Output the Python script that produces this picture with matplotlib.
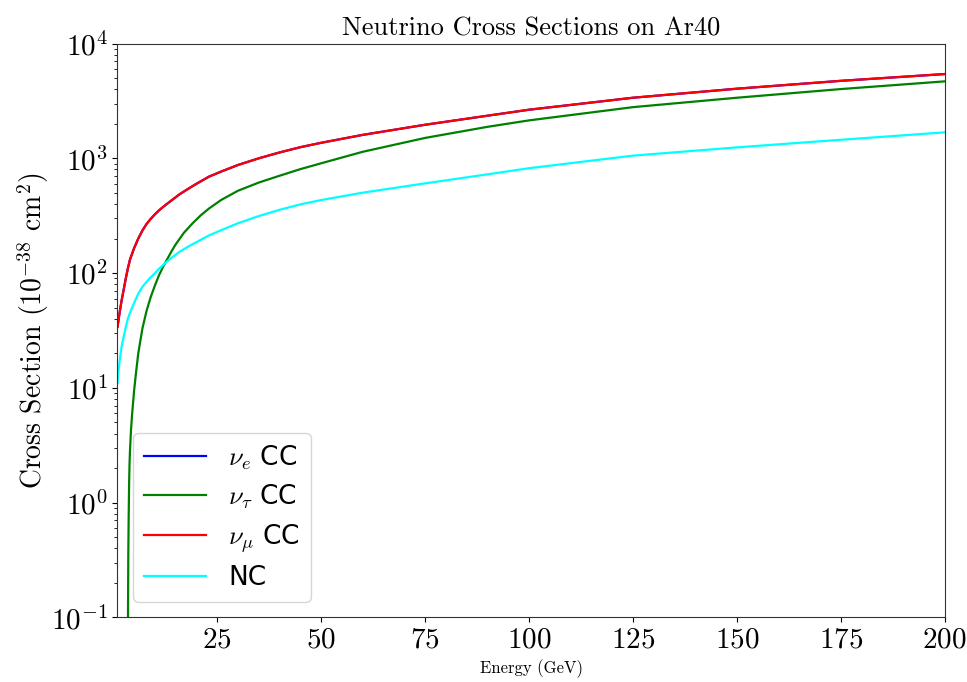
import matplotlib
matplotlib.use('Agg')
import matplotlib.pyplot as plt

plt.rcParams['font.family'] = 'cmr10'
plt.rcParams['mathtext.fontset'] = 'cm'
plt.rcParams['axes.formatter.use_mathtext'] = True

# energies (GeV) and cross sections (1e-38 cm^2) on Ar40
energy = [1, 1.25, 1.5, 2, 2.5, 3, 3.5, 4, 5, 6, 7, 8, 9, 10, 11, 12, 14, 16,
          18, 20, 23, 26, 30, 35, 40, 45, 50, 60, 75, 90, 100, 125, 150, 175,
          200]
xs_nue = [34, 39, 45, 58, 72, 90, 110, 131, 165, 200, 235, 268, 297, 325,
          352, 378, 430, 488, 542, 600, 692, 768, 875, 1000, 1125, 1250, 1365,
          1600, 1960, 2350, 2650, 3370, 4040, 4730, 5420]
xs_numu = [34, 39, 45, 58, 72, 90, 110, 131, 165, 200, 235, 268, 297, 325,
           352, 378, 430, 488, 542, 600, 692, 768, 875, 1000, 1125, 1250, 1365,
           1600, 1960, 2350, 2650, 3370, 4040, 4730, 5420]
xs_nc = [11, 14, 17, 23, 28, 34, 40, 45, 55, 66, 76, 84, 92, 100, 109, 118,
         136, 154, 170, 186, 213, 237, 272, 314, 356, 397, 433, 502, 605, 725,
         820, 1055, 1245, 1450, 1683]

energy_tau = [3.5, 3.55, 3.6, 3.7, 3.8, 3.9, 4, 4.25, 4.5, 5, 5.5, 6, 7, 8, 9,
              10, 11, 12, 13, 14, 15, 17, 19, 21, 23, 26, 30, 35, 40, 45, 50,
              60, 75, 90, 100, 125, 150, 175, 200]
xs_nutau = [0.05, 0.15, 0.35, 0.8, 1.5, 2.2, 2.8, 4.3, 5.8, 9.5, 14, 20, 33,
            47, 62, 78, 96, 114, 133, 155, 178, 225, 270, 318, 365, 435, 522,
            615, 705, 805, 905, 1140, 1505, 1880, 2140, 2790, 3370, 4010, 4680]

fig = plt.figure(figsize=(9.67, 6.82), dpi=100)
ax = fig.add_axes([0.1215, 0.0946, 0.8555, 0.8416])

ax.plot(energy, xs_nue, color='blue', lw=1.6, label=r'$\nu_e$ CC')
ax.plot(energy_tau, xs_nutau, color='green', lw=1.6, label=r'$\nu_\tau$ CC')
ax.plot(energy, xs_numu, color='red', lw=1.6, label=r'$\nu_\mu$ CC')
ax.plot(energy, xs_nc, color='cyan', lw=1.6, label='NC')

ax.set_yscale('log')
ax.set_xlim(1, 200)
ax.set_ylim(0.1, 1e4)
ax.set_xticks([25, 50, 75, 100, 125, 150, 175, 200])
ax.tick_params(labelsize=21)
for sp in ax.spines.values():
    sp.set_color('#333333')

ax.set_title('Neutrino Cross Sections on Ar40', fontsize=19)
ax.set_xlabel('Energy (GeV)', fontsize=12)
ax.set_ylabel(r'Cross Section $(10^{-38}$ cm$^2)$', fontsize=20, labelpad=0)

leg = ax.legend(loc='lower left', prop={'family': 'DejaVu Sans', 'size': 19},
                handlelength=2.35, handletextpad=0.85, labelspacing=0.4,
                borderaxespad=0.6)

fig.savefig('out.png', dpi=100)
